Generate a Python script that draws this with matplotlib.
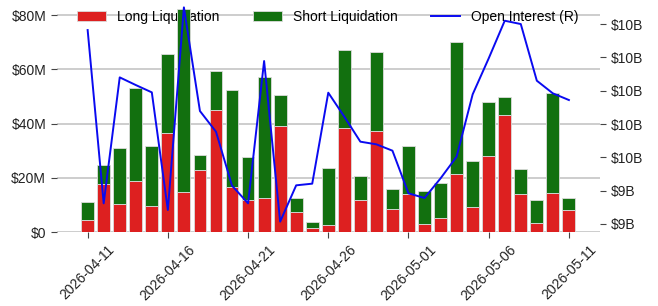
import matplotlib
matplotlib.use("Agg")
import matplotlib.pyplot as plt
import matplotlib.dates as mdates
import matplotlib.ticker as mticker
import pandas as pd
import numpy as np

plt.rcParams['font.family'] = ['Liberation Sans', 'DejaVu Sans']

dates = pd.date_range("2026-04-11", "2026-05-11", freq="D")
long_liq = [4.5, 17.8, 10.4, 18.8, 9.6, 36.4, 14.7, 23.0, 45.0, 16.6,
            12.0, 12.7, 39.1, 7.6, 1.6, 2.6, 38.4, 11.9, 37.2, 8.5,
            14.1, 3.1, 5.3, 21.3, 9.3, 28.1, 43.1, 14.1, 3.3, 14.5, 8.2]
total_liq = [11.0, 24.7, 30.9, 53.2, 31.6, 65.5, 82.2, 28.4, 59.4, 52.5,
             27.6, 57.2, 50.6, 12.6, 3.7, 23.7, 67.3, 20.6, 66.2, 15.8,
             31.9, 15.3, 18.1, 70.1, 26.1, 48.0, 49.9, 23.3, 11.8, 51.2, 12.6]
short_liq = [t - l for t, l in zip(total_liq, long_liq)]
open_interest = [10.364, 9.324, 10.080, 10.034, 9.990, 9.284, 10.500, 9.878, 9.754, 9.430,
                 9.324, 10.178, 9.214, 9.432, 9.442, 9.988, 9.844, 9.694, 9.678, 9.640,
                 9.384, 9.356, 9.474, 9.604, 9.978, 10.194, 10.420, 10.400, 10.060, 9.984, 9.944]
oi_ticks = [9.2, 9.4, 9.6, 9.8, 10.0, 10.2, 10.4]
liq_ticks = [0, 20, 40, 60, 80]

fig = plt.figure(figsize=(6.58, 3.06), dpi=100)
ax = fig.add_axes([0.0859, 0.2408, 0.826, 0.759])
ax2 = ax.twinx()

red = '#DD2020'
green = '#12700F'
ax.bar(dates, long_liq, width=0.8, color=red, edgecolor='#dcdcdc', linewidth=0.6,
       label='Long Liquidation', zorder=2)
ax.bar(dates, short_liq, bottom=long_liq, width=0.8, color=green, edgecolor='#dcdcdc',
       linewidth=0.6, label='Short Liquidation', zorder=2)
ax2.plot(dates, open_interest, color='#0A0AF0', linewidth=1.4, label='Open Interest (R)')

ax.set_ylim(0, 85.5)
ax2.set_ylim(9.15, 10.544)
ax.set_xlim(dates[0] - pd.Timedelta(days=1.94), dates[-1] + pd.Timedelta(days=1.94))

ax.set_yticks(liq_ticks)
ax.yaxis.set_major_formatter(mticker.FuncFormatter(lambda v, p: f"${v:.0f}M" if v else "$0"))
ax2.set_yticks(oi_ticks)
ax2.yaxis.set_major_formatter(mticker.FuncFormatter(lambda v, p: f"${v:.0f}B"))

ax.set_xticks(dates[::5])
ax.xaxis.set_major_formatter(mdates.DateFormatter('%Y-%m-%d'))
for lab in ax.get_xticklabels():
    lab.set_rotation(45)
    lab.set_ha('center')

ax.grid(axis='y', color='#c0c0c0', linewidth=1.1, zorder=0)
ax.set_axisbelow(True)
for a in (ax, ax2):
    for s in a.spines.values():
        s.set_visible(False)
    a.tick_params(labelsize=10, colors='#222222', length=4, width=0.8)
    a.tick_params(axis='both', which='major', color='#444444')

h1, l1 = ax.get_legend_handles_labels()
h2, l2 = ax2.get_legend_handles_labels()
leg = ax.legend(h1 + h2, l1 + l2, loc='upper center', ncol=3, frameon=False,
                fontsize=10, bbox_to_anchor=(0.499, 1.012), handlelength=2.1,
                handletextpad=0.8, columnspacing=2.4)
leg.set_zorder(1)

fig.savefig("out.png", dpi=100)
